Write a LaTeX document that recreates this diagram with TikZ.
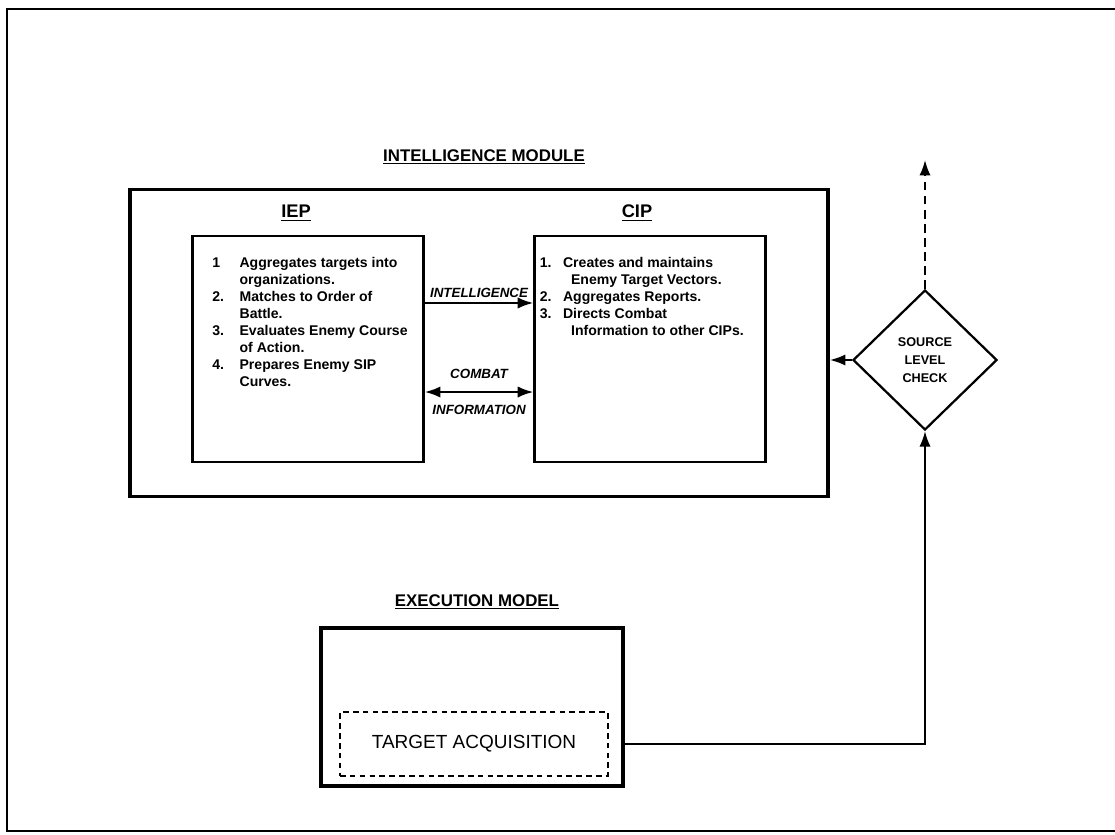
\documentclass[tikz,border=0pt]{standalone}
\usepackage{fontspec}
\setmainfont{Liberation Sans}
\usetikzlibrary{shapes.geometric,positioning,arrows.meta}

\begin{document}
\begin{tikzpicture}[
  x=0.025cm, y=-0.025cm,
  box/.style={rectangle, draw, line width=1.8pt, minimum width=5.78cm, minimum height=5.65cm, inner sep=0pt},
  title/.style={font=\fontsize{12}{14}\selectfont\bfseries},
  sub/.style={font=\fontsize{13}{15}\selectfont\bfseries},
  steps/.style={inner sep=0pt, font=\fontsize{10}{12.05}\selectfont\bfseries},
  flow/.style={font=\fontsize{9.5}{11}\selectfont\bfseries\itshape, inner sep=3pt},
  link/.style={line width=1.4pt},
  tip/.tip={Latex[length=11pt,width=8pt]},
  node distance=8.55cm
]
\useasboundingbox (0,0) rectangle (1115,834);
\draw[line width=1pt] (1115,9) -| (7,831) -- (1115,831);

% intelligence module
\node[title] (imtitle) at (484,157) {\underline{INTELLIGENCE MODULE}};
\node[rectangle, draw, line width=2.6pt, minimum width=17.45cm, minimum height=7.68cm] (module) at (479,343) {};
\node[box] (iepbox) at (308,349) {};
\node[box, right of=iepbox] (cipbox) {};
\node[sub] (iep) at (296,213) {\underline{IEP}};
\node[sub] (cip) at (637,213) {\underline{CIP}};

\node[steps, below right=0.525cm and 0.525cm of iepbox.north west] (ieplist) {%
  \begin{tabular}{@{}p{0.68cm}@{}l@{}}
  1  & Aggregates targets into\\
     & organizations.\\
  2. & Matches to Order of\\
     & Battle.\\
  3. & Evaluates Enemy Course\\
     & of Action.\\
  4. & Prepares Enemy SIP\\
     & Curves.
  \end{tabular}};
\node[steps, below right=0.525cm and 0.16cm of cipbox.north west] (ciplist) {%
  \begin{tabular}{@{}p{0.58cm}@{}l@{}}
  1. & Creates and maintains\\
     & \hspace*{0.2cm}Enemy Target Vectors.\\
  2. & Aggregates Reports.\\
  3. & Directs Combat\\
     & \hspace*{0.2cm}Information to other CIPs.
  \end{tabular}};

\draw[link, -tip] ([yshift=1.15cm]iepbox.east) -- node[flow, above] (intel) {INTELLIGENCE} ([yshift=1.15cm]cipbox.west);
\draw[link, tip-tip] ([yshift=-1.075cm]iepbox.east) -- node[flow, above=6pt] (combat) {COMBAT}
  node[flow, below=6pt] (info) {INFORMATION} ([yshift=-1.075cm]cipbox.west);

% source level check
\node[diamond, draw, line width=1.6pt, minimum width=3.6cm, minimum height=3.5cm, inner sep=0pt,
  align=center, font=\fontsize{9}{12.8}\selectfont\bfseries] (check) at (925,360) {SOURCE\\LEVEL\\CHECK};
\coordinate (up) at (925,160);
\draw[link, -tip] (check.west) -- (check.west -| module.east);
\draw[link, -tip, dash pattern=on 6pt off 4pt] (check.north) -- (up);

% execution model
\node[title] (emtitle) at (477,602) {\underline{EXECUTION MODEL}};
\node[rectangle, draw, line width=3.2pt, minimum width=7.55cm, minimum height=3.95cm] (execbox) at (472,707) {};
\node[rectangle, draw, line width=1.4pt, dash pattern=on 4pt off 3pt, minimum width=6.7cm, minimum height=1.58cm,
  font=\fontsize{13.5}{15}\selectfont] (tacq) at (474,744) {TARGET ACQUISITION};
\draw[link, -tip] (execbox.east |- tacq) -| (check.south);
\end{tikzpicture}
\end{document}
